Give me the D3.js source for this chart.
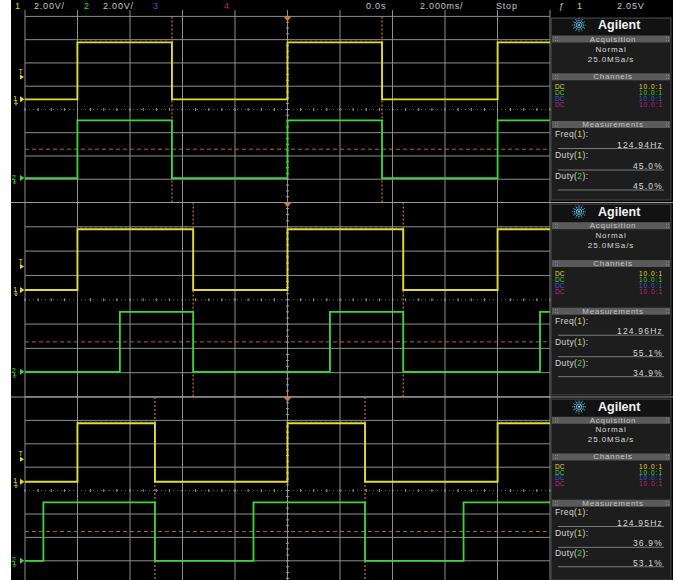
<!DOCTYPE html>
<html>
<head>
<meta charset="utf-8">
<script src="https://cdn.jsdelivr.net/npm/d3@7"></script>
<style>
  html, body { margin: 0; padding: 0; background: #ffffff; }
  svg { display: block; }
  text { font-family: "Liberation Sans", "DejaVu Sans", sans-serif; }
</style>
</head>
<body>
<svg id="scope" width="673" height="580"></svg>
<script>
// ---- Scope settings shared by the three captures ----
const voltsPerDiv = 2.0;          // ch1 and ch2
const msPerDiv = 2.0;             // timebase
const triggerLevelV = 2.05;
const timeOffset = "0.0s";
const runState = "Stop";
const sampleRate = "25.0MSa/s";
const acquisitionMode = "Normal";
const channelCoupling = ["DC", "DC", "DC", "DC"];
const channelProbe = ["10.0:1", "10.0:1", "10.0:1", "10.0:1"];

// ---- Per-capture measurements and signal levels ----
const frequencyHz = [124.94, 124.96, 124.95];
const duty1Pct = [45.0, 55.1, 36.9];
const duty2Pct = [45.0, 34.9, 53.1];
const ch1HighV = [4.9, 5.0, 5.0];
const ch2HighV = [4.96, 4.93, 5.0];
const ch1OffsetV = [0.87, 0.80, 0.76];
const ch2OffsetV = [-5.9, -5.93, -6.0];

// ---- Colours ----
const chColor = ["#e2db36", "#3fd53a", "#3a5ad8", "#c8207c"];
const orange = "#cf7630";
const gridColor = "#8e8e8e";

// ---- Screen geometry of each capture ----
const panels = [
  { top: 0,     bottom: 202.5, gridTop: 16.4,  gridBottom: 202.5, sideTop: 18,  sideBottom: 200, yA: 25,    s: 1.0,  header: true },
  { top: 202.5, bottom: 397,   gridTop: 202.5, gridBottom: 397,   sideTop: 204, sideBottom: 395, yA: 211.7, s: 1.0,  header: false },
  { top: 397,   bottom: 580,   gridTop: 397,   gridBottom: 584.2, sideTop: 399, sideBottom: 580, yA: 406.7, s: 0.97, header: false }
];
const gridLeft = 25, gridRight = 550, screenLeft = 11, sideLeft = 551, sideRight = 671;

const svg = d3.select("#scope");
svg.append("rect").attr("width", 673).attr("height", 580).attr("fill", "#ffffff");

const x = d3.scaleLinear().domain([-5 * msPerDiv, 5 * msPerDiv]).range([gridLeft, gridRight]);

panels.forEach((p, i) => {
  const g = svg.append("g");
  const clipId = "clip" + i;
  const visBottom = Math.min(p.gridBottom, p.bottom);

  // screen background
  g.append("rect").attr("x", screenLeft).attr("y", p.top).attr("width", 673 - screenLeft)
    .attr("height", p.bottom - p.top).attr("fill", "#000");

  svg.append("clipPath").attr("id", clipId).append("rect")
    .attr("x", gridLeft).attr("y", p.gridTop).attr("width", gridRight - gridLeft)
    .attr("height", visBottom - p.gridTop);

  const y = d3.scaleLinear().domain([-4 * voltsPerDiv, 4 * voltsPerDiv]).range([p.gridBottom, p.gridTop]);

  // graticule
  const grid = g.append("g");
  const vTicks = d3.range(-5 * msPerDiv, 5 * msPerDiv + 0.001, msPerDiv);
  grid.selectAll("line.v").data(vTicks).join("line")
    .attr("x1", d => x(d)).attr("x2", d => x(d))
    .attr("y1", p.header ? 10 : p.gridTop).attr("y2", visBottom)
    .attr("stroke", gridColor).attr("stroke-width", 1);
  const hTicks = d3.range(-4 * voltsPerDiv, 4 * voltsPerDiv + 0.001, voltsPerDiv).filter(v => Math.abs(v) > 1e-6);
  grid.selectAll("line.h").data(hTicks).join("line")
    .attr("x1", gridLeft).attr("x2", gridRight)
    .attr("y1", d => y(d)).attr("y2", d => y(d))
    .attr("stroke", gridColor).attr("stroke-width", 1);
  // centre horizontal axis: dotted with minor ticks
  grid.append("line").attr("x1", gridLeft).attr("x2", gridRight)
    .attr("y1", y(0)).attr("y2", y(0))
    .attr("stroke", "#666").attr("stroke-width", 1).attr("stroke-dasharray", "1,3");
  const minorT = d3.range(-5 * msPerDiv, 5 * msPerDiv + 0.001, msPerDiv / 4);
  grid.selectAll("line.mt").data(minorT).join("line")
    .attr("x1", d => x(d)).attr("x2", d => x(d))
    .attr("y1", y(0) - 1.5).attr("y2", y(0) + 1.5)
    .attr("stroke", "#a0a0a0").attr("stroke-width", 1);
  const minorV = d3.range(-4 * voltsPerDiv, 4 * voltsPerDiv + 0.001, voltsPerDiv / 4);
  grid.selectAll("line.mv").data(minorV).join("line")
    .attr("x1", x(0) - 1.5).attr("x2", x(0) + 1.5)
    .attr("y1", d => y(d)).attr("y2", d => y(d))
    .attr("stroke", "#a0a0a0").attr("stroke-width", 1);

  // waveforms
  const T = 1000 / frequencyHz[i];          // period in ms
  const d1 = duty1Pct[i] / 100, d2 = duty2Pct[i] / 100;
  const ch1Pts = [], ch2Pts = [], ch1High = [];
  d3.range(-3, 4).forEach(k => {
    const rise1 = k * T, fall = k * T + d1 * T, rise2 = fall - d2 * T;
    ch1Pts.push([rise1, ch1HighV[i]], [fall, 0]);
    ch2Pts.push([rise2, ch2HighV[i]], [fall, 0]);
    ch1High.push([rise1, fall]);
  });
  ch1Pts.sort((a, b) => a[0] - b[0]);
  ch2Pts.sort((a, b) => a[0] - b[0]);

  const traces = g.append("g").attr("clip-path", `url(#${clipId})`);

  // measurement threshold (ch2 mid level) and edge markers
  traces.append("line").attr("x1", gridLeft).attr("x2", gridRight)
    .attr("y1", y(ch2OffsetV[i] + ch2HighV[i] / 2)).attr("y2", y(ch2OffsetV[i] + ch2HighV[i] / 2))
    .attr("stroke", orange).attr("stroke-width", 1).attr("stroke-dasharray", "4,3").attr("opacity", 0.85);
  [-1, 0].forEach(k => {
    const tf = k * T + d1 * T;
    traces.append("line").attr("x1", x(tf)).attr("x2", x(tf))
      .attr("y1", p.gridTop).attr("y2", visBottom)
      .attr("stroke", orange).attr("stroke-width", 1.2).attr("stroke-dasharray", "2,2");
  });

  const line1 = d3.line().x(d => x(d[0])).y(d => y(d[1] + ch1OffsetV[i])).curve(d3.curveStepAfter);
  const line2 = d3.line().x(d => x(d[0])).y(d => y(d[1] + ch2OffsetV[i])).curve(d3.curveStepAfter);
  traces.append("path").attr("d", line2(ch2Pts)).attr("fill", "none")
    .attr("stroke", chColor[1]).attr("stroke-width", 1.8);
  traces.append("path").attr("d", line1(ch1Pts)).attr("fill", "none")
    .attr("stroke", chColor[0]).attr("stroke-width", 1.9);
  // sample spread visible just above the ch1 high level
  traces.selectAll("line.nz").data(ch1High).join("line")
    .attr("x1", d => x(d[0]) + 3).attr("x2", d => x(d[1]) - 3)
    .attr("y1", y(ch1HighV[i] + ch1OffsetV[i]) - 1.6).attr("y2", y(ch1HighV[i] + ch1OffsetV[i]) - 1.6)
    .attr("stroke", chColor[0]).attr("stroke-width", 0.9).attr("stroke-dasharray", "1,4").attr("opacity", 0.6);

  // trigger time reference marker
  const tx = x(0);
  g.append("path").attr("d", `M${tx - 4},${p.gridTop} L${tx + 4},${p.gridTop} L${tx},${p.gridTop + 5} Z`)
    .attr("fill", orange);

  // left-side channel and trigger markers
  const marker = (yy, label, color, labelX) => {
    g.append("text").attr("x", labelX).attr("y", yy - 1).attr("font-size", 8)
      .attr("fill", color).attr("dominant-baseline", "central").text(label);
    g.append("path").attr("d", `M${labelX + 3},${yy + 1} v3 M${labelX + 1},${yy + 4} h4 M${labelX + 2},${yy + 5.5} h2`)
      .attr("stroke", color).attr("stroke-width", 0.8).attr("fill", "none");
    g.append("path").attr("d", `M20,${yy - 3} L24.5,${yy} L20,${yy + 3} Z`).attr("fill", color);
  };
  marker(y(ch1OffsetV[i]), "1", chColor[0], 13);
  marker(y(ch2OffsetV[i]), "2", chColor[1], 11.5);
  const ty = y(ch1OffsetV[i] + triggerLevelV);
  g.append("text").attr("x", 18.5).attr("y", ty - 4).attr("font-size", 7)
    .attr("fill", chColor[0]).attr("dominant-baseline", "central").text("T");
  g.append("path").attr("d", `M20,${ty - 1} L24,${ty + 1.5} L20,${ty + 4} Z`).attr("fill", chColor[0]);

  // ---- side panel ----
  const sp = g.append("g");
  const o = v => p.yA + v * p.s;
  const cx = (sideLeft + sideRight) / 2;
  sp.append("rect").attr("x", sideLeft).attr("y", p.sideTop).attr("width", sideRight - sideLeft)
    .attr("height", p.sideBottom - p.sideTop).attr("fill", "#1d1d1d")
    .attr("stroke", "#4a4a4a").attr("stroke-width", 1);
  sp.append("rect").attr("x", sideLeft + 1).attr("y", p.sideTop + 1).attr("width", sideRight - sideLeft - 2)
    .attr("height", o(10) - p.sideTop).attr("fill", "#121212");

  // logo
  const lx = 579, ly = o(0);
  d3.range(12).forEach(j => {
    const a = j * Math.PI / 6;
    [2.6, 4.6, 6.4].forEach((r, m) => {
      sp.append("circle").attr("cx", lx + r * Math.cos(a)).attr("cy", ly + r * Math.sin(a))
        .attr("r", m === 2 ? 0.6 : 0.75).attr("fill", m === 2 ? "#3f8fc0" : "#62b8e6");
    });
  });
  sp.append("circle").attr("cx", lx).attr("cy", ly).attr("r", 1.1).attr("fill", "#8ad0f0");
  sp.append("text").attr("x", 598).attr("y", ly).attr("font-size", 12.5).attr("font-weight", "bold")
    .attr("fill", "#f2f2f2").attr("dominant-baseline", "central").text("Agilent");

  const bar = (yy, label) => {
    sp.append("rect").attr("x", sideLeft + 1).attr("y", yy - 3.5).attr("width", sideRight - sideLeft - 2)
      .attr("height", 7).attr("fill", "#5a5a5a");
    sp.append("text").attr("x", cx + 2).attr("y", yy).attr("font-size", 8).attr("text-anchor", "middle")
      .attr("fill", "#c2c2c2").attr("letter-spacing", 0.7).attr("dominant-baseline", "central").text(label);
    [555, 666].forEach(gx => {
      [-1.5, 1.5].forEach(dy => {
        sp.append("rect").attr("x", gx).attr("y", yy + dy - 0.5).attr("width", 1).attr("height", 1).attr("fill", "#8a8a8a");
        sp.append("rect").attr("x", gx + 2).attr("y", yy + dy - 0.5).attr("width", 1).attr("height", 1).attr("fill", "#8a8a8a");
      });
    });
  };
  bar(o(14), "Acquisition");
  sp.append("text").attr("x", cx).attr("y", o(24)).attr("font-size", 8).attr("text-anchor", "middle")
    .attr("fill", "#d8d8d8").attr("letter-spacing", 0.9).attr("dominant-baseline", "central").text(acquisitionMode);
  sp.append("text").attr("x", cx).attr("y", o(34)).attr("font-size", 8).attr("text-anchor", "middle")
    .attr("fill", "#d8d8d8").attr("letter-spacing", 0.9).attr("dominant-baseline", "central").text(sampleRate);

  bar(o(51.8), "Channels");
  const rowY = [61.5, 67.5, 73.5, 79.5];
  channelCoupling.forEach((c, j) => {
    sp.append("text").attr("x", 555).attr("y", o(rowY[j])).attr("font-size", 6.5)
      .attr("fill", chColor[j]).attr("dominant-baseline", "central").text(c);
    sp.append("text").attr("x", 663).attr("y", o(rowY[j])).attr("font-size", 6.5).attr("text-anchor", "end")
      .attr("letter-spacing", 1).attr("fill", chColor[j]).attr("dominant-baseline", "central").text(channelProbe[j]);
  });

  bar(o(99.5), "Measurements");
  const meas = [
    { name: "Freq", ch: 1, value: frequencyHz[i].toFixed(2) + "Hz", ly: 109, vy: 119.5, uy: 123.5 },
    { name: "Duty", ch: 1, value: duty1Pct[i].toFixed(1) + "%", ly: 130.3, vy: 141, uy: 145 },
    { name: "Duty", ch: 2, value: duty2Pct[i].toFixed(1) + "%", ly: 150.9, vy: 161, uy: 165 }
  ];
  meas.forEach(m => {
    const t = sp.append("text").attr("x", 555).attr("y", o(m.ly)).attr("font-size", 8.5)
      .attr("fill", "#d8d8d8").attr("letter-spacing", 0.4).attr("dominant-baseline", "central");
    t.append("tspan").text(m.name + "(");
    t.append("tspan").attr("fill", chColor[m.ch - 1]).text(m.ch);
    t.append("tspan").text("):");
    sp.append("text").attr("x", 663).attr("y", o(m.vy)).attr("font-size", 8.5).attr("text-anchor", "end")
      .attr("font-family", "DejaVu Sans Mono, monospace").attr("letter-spacing", 1.2)
      .attr("fill", "#d8d8d8").attr("dominant-baseline", "central").text(m.value);
    sp.append("line").attr("x1", 558).attr("x2", 664).attr("y1", o(m.uy)).attr("y2", o(m.uy))
      .attr("stroke", "#7a7a7a").attr("stroke-width", 1);
  });

  // status line across the top of the first capture
  if (p.header) {
    const hy = 5.5;
    const hdr = [
      { x: 15, t: "1", c: chColor[0] },
      { x: 34, t: voltsPerDiv.toFixed(2) + "V/", c: "#c8c8c8" },
      { x: 84, t: "2", c: chColor[1] },
      { x: 103, t: voltsPerDiv.toFixed(2) + "V/", c: "#c8c8c8" },
      { x: 153, t: "3", c: chColor[2] },
      { x: 224, t: "4", c: chColor[3] },
      { x: 366, t: timeOffset, c: "#c8c8c8" },
      { x: 420, t: msPerDiv.toFixed(3) + "ms/", c: "#c8c8c8" },
      { x: 496, t: runState, c: "#c8c8c8" },
      { x: 559, t: "ƒ", c: "#c8c8c8" },
      { x: 577, t: "1", c: chColor[0] },
      { x: 617, t: triggerLevelV.toFixed(2) + "V", c: "#c8c8c8" }
    ];
    hdr.forEach(h => {
      g.append("text").attr("x", h.x).attr("y", hy).attr("font-size", 9).attr("letter-spacing", 0.8)
        .attr("fill", h.c).attr("dominant-baseline", "central").text(h.t);
    });
  }
});

// capture boundaries
[202.5, 397].forEach(yy => {
  svg.append("line").attr("x1", screenLeft).attr("x2", 673).attr("y1", yy).attr("y2", yy)
    .attr("stroke", "#9a9a9a").attr("stroke-width", 1.2);
});
</script>
</body>
</html>
